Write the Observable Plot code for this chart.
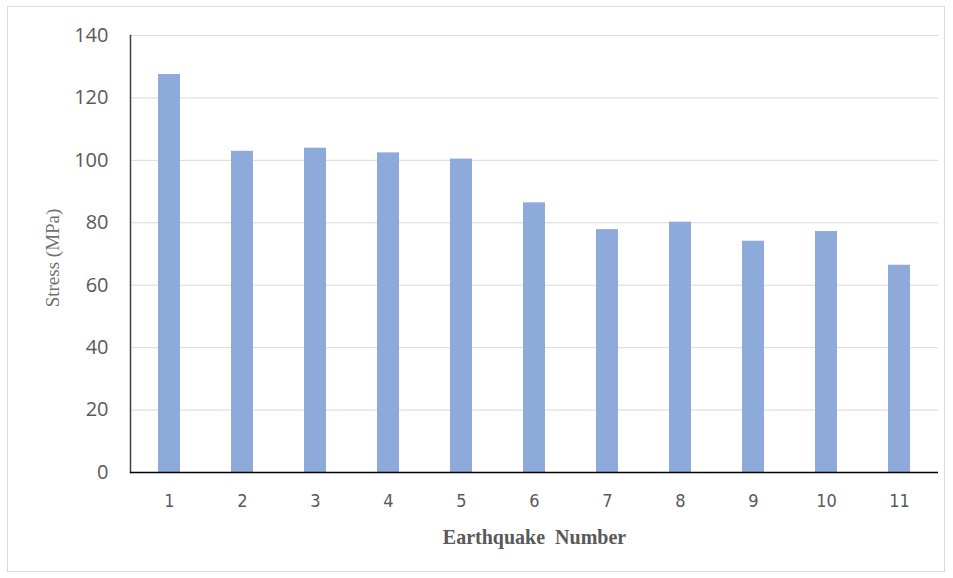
<!DOCTYPE html>
<html>
<head>
<meta charset="utf-8">
<script src="https://cdn.jsdelivr.net/npm/d3@7"></script>
<script src="https://cdn.jsdelivr.net/npm/@observablehq/plot@0.6"></script>
<style>
  html, body { margin: 0; padding: 0; background: #fff; }
  #frame { position: absolute; left: 7px; top: 6px; width: 938px; height: 566px; border: 1px solid #d9d9d9; box-sizing: border-box; }
  #chart { position: absolute; left: 0; top: 0; }
</style>
</head>
<body>
<div id="frame"></div>
<div id="chart"></div>
<script>
const earthquakes = ["1","2","3","4","5","6","7","8","9","10","11"];
const stress = [127.5, 102.9, 103.9, 102.4, 100.4, 86.4, 77.8, 80.2, 74.1, 77.2, 66.4];
const yTicks = [0, 20, 40, 60, 80, 100, 120, 140];
const xLabel = "Earthquake  Number";
const yLabel = "Stress (MPa)";

const data = earthquakes.map((e, i) => ({ eq: e, stress: stress[i] }));

const chart = Plot.plot({
  width: 953,
  height: 578,
  marginLeft: 130,
  marginRight: 15,
  marginTop: 35,
  marginBottom: 106,
  style: { background: "transparent" },
  x: { domain: earthquakes, paddingInner: 0.7, paddingOuter: 0.35, align: 0.5 },
  y: { domain: [0, 140] },
  marks: [
    Plot.ruleY(yTicks.filter(d => d > 0), { stroke: "#d9d9d9", strokeWidth: 1 }),
    Plot.barY(data, { x: "eq", y: "stress", fill: "#8eaadb" }),
    Plot.frame({ anchor: "left", stroke: "#404040", strokeWidth: 1.5 }),
    Plot.ruleY([0], { stroke: "#000", strokeWidth: 1.5 }),
    Plot.axisX({ tickSize: 0, tickPadding: 22, fontSize: 18, fill: "#595959", fontFamily: "Liberation Sans Narrow, DejaVu Sans Condensed, sans-serif", label: null }),
    Plot.axisY({ ticks: yTicks, tickSize: 0, tickPadding: 22, fontSize: 20, fill: "#595959", fontFamily: "Open Sans, sans-serif", label: null }),
    Plot.text([xLabel], { frameAnchor: "bottom", textAnchor: "middle", lineAnchor: "middle", dy: 65, fontSize: 20, fontWeight: "bold", fontFamily: "Liberation Serif, serif", fill: "#595959" }),
    Plot.text([yLabel], { frameAnchor: "left", textAnchor: "middle", lineAnchor: "middle", dx: -78, dy: 4, rotate: -90, fontSize: 19, fontFamily: "Liberation Serif, serif", fill: "#707070" })
  ]
});
document.getElementById("chart").appendChild(chart);
</script>
</body>
</html>
